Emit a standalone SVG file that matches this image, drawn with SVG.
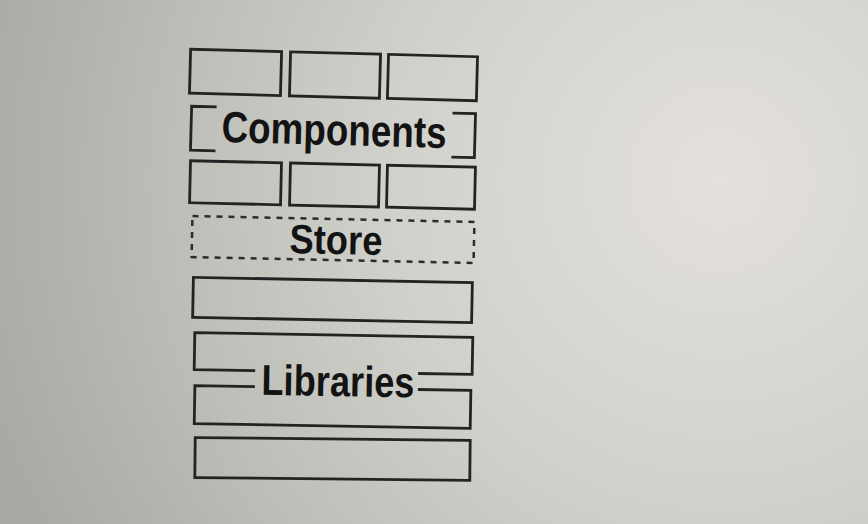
<svg xmlns="http://www.w3.org/2000/svg" width="868" height="524" viewBox="0 0 868 524">
<defs>
<radialGradient id="bg" cx="720" cy="180" r="760" gradientUnits="userSpaceOnUse">
<stop offset="0" stop-color="#e4e1dc"/>
<stop offset="0.45" stop-color="#d0d0ca"/>
<stop offset="1" stop-color="#a7aba4"/>
</radialGradient>
<style>
.b{fill:none;stroke:#232323;stroke-width:2.8}
.d{fill:none;stroke:#2c2c2c;stroke-width:2.5;stroke-dasharray:6 6}
.t{font-family:"Liberation Sans",Arial,sans-serif;font-weight:bold;fill:#131313;text-anchor:middle}
</style>
</defs>
<rect width="868" height="524" fill="url(#bg)"/>
<g id="top-row" transform="rotate(1.5 334 75)">
<rect class="b" x="190" y="53" width="91" height="44"/>
<rect class="b" x="290" y="53" width="90" height="44"/>
<rect class="b" x="388" y="53" width="89" height="44"/>
</g>
<g id="components" transform="rotate(1.5 334 132)">
<path class="b" d="M216 110 H191 V154 H216"/>
<path class="b" d="M452 110 H475 V154 H452"/>
<text class="t" x="334" y="145" font-size="44" textLength="225" lengthAdjust="spacingAndGlyphs">Components</text>
</g>
<g id="middle-row" transform="rotate(1.3 333 185)">
<rect class="b" x="190" y="164" width="91" height="42"/>
<rect class="b" x="290" y="164" width="89" height="42"/>
<rect class="b" x="387" y="164" width="88" height="42"/>
</g>
<g id="store" transform="rotate(1.2 333 240)">
<rect class="d" x="192" y="219" width="282" height="41"/>
<text class="t" x="336" y="254" font-size="41" textLength="93" lengthAdjust="spacingAndGlyphs">Store</text>
</g>
<g id="layer" transform="rotate(1.1 332 300)">
<rect class="b" x="193" y="280" width="279" height="40"/>
</g>
<g id="libraries" transform="rotate(1 333 381)">
<path class="b" d="M255 372 H194 V335 H472 V372 H418"/>
<path class="b" d="M255 388 H195 V426 H471 V388 H418"/>
<text class="t" x="338" y="396" font-size="43" textLength="153" lengthAdjust="spacingAndGlyphs">Libraries</text>
</g>
<g id="bottom" transform="rotate(0.6 332 459)">
<rect class="b" x="195" y="439" width="275" height="40"/>
</g>
<g id="connectors"/>
</svg>
